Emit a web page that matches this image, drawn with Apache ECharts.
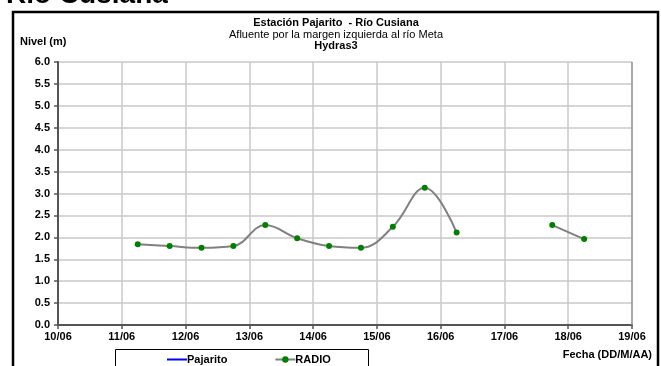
<!DOCTYPE html>
<html>
<head>
<meta charset="UTF-8">
<title>Estación Pajarito - Río Cusiana</title>
<script src="https://cdn.jsdelivr.net/npm/echarts@6/dist/echarts.min.js"></script>
<style>
  body { margin: 0; background: #fff; }
  #main { width: 661px; height: 366px; }
</style>
</head>
<body>
<div id="main"></div>
<script type="text/javascript">
// days of June (fractional), null marks the gap in the record
var dias = [11.25, 11.75, 12.25, 12.75, 13.25, 13.75, 14.25, 14.75, 15.25, 15.75, 16.25, 16.75, 17.25, 17.75, 18.25];
var radio = [1.84, 1.80, 1.76, 1.80, 2.28, 1.98, 1.80, 1.76, 2.24, 3.13, 2.11, null, null, 2.28, 1.96];
var pajarito = [];
var yTicks = [0, 0.5, 1, 1.5, 2, 2.5, 3, 3.5, 4, 4.5, 5, 5.5, 6];

var font = 'Liberation Sans, Arial, sans-serif';
var radioData = dias.map(function (d, i) { return [d, radio[i]]; });

var myChart = echarts.init(document.getElementById('main'));
myChart.setOption({
    animation: false,
    title: [{
        text: 'Estación Pajarito  - Río Cusiana',
        left: 331, top: 12, textAlign: 'center',
        textStyle: { fontFamily: font, fontSize: 11, fontWeight: 'bold', color: '#000' }
    }, {
        text: 'Afluente por la margen izquierda al río Meta',
        left: 331, top: 24, textAlign: 'center',
        textStyle: { fontFamily: font, fontSize: 11, fontWeight: 'normal', color: '#000' }
    }, {
        text: 'Hydras3',
        left: 331, top: 35, textAlign: 'center',
        textStyle: { fontFamily: font, fontSize: 11, fontWeight: 'bold', color: '#000' }
    }],
    graphic: [{
        type: 'text', x: 6, y: 9,
        style: { text: 'Río Cusiana', font: 'bold 28px ' + font, fill: '#000', verticalAlign: 'bottom' }
    }, {
        type: 'rect', shape: { x: 13, y: 12, width: 645, height: 370 },
        style: { fill: 'none', stroke: '#000', lineWidth: 2.5 }
    }, {
        type: 'text', left: 20, top: 36,
        style: { text: 'Nivel (m)', font: 'bold 11px ' + font, fill: '#000' }
    }, {
        type: 'text', right: 9, top: 349,
        style: { text: 'Fecha (DD/M/AA)', font: 'bold 11px ' + font, fill: '#000' }
    }, {
        type: 'rect', shape: { x: 115.5, y: 349.5, width: 253, height: 25 },
        style: { fill: '#fff', stroke: '#000', lineWidth: 1 }
    }],
    legend: {
        left: 161, top: 349, itemGap: 47, itemWidth: 20, itemHeight: 8,
        textStyle: { fontFamily: font, fontSize: 11, fontWeight: 'bold', color: '#000', padding: [0, 0, 0, -5] },
        data: [
            { name: 'Pajarito', itemStyle: { color: 'rgba(0,0,0,0)', borderWidth: 0 } },
            'RADIO'
        ]
    },
    grid: { left: 58, right: 29, top: 62, bottom: 41 },
    xAxis: {
        type: 'value', min: 10, max: 19, interval: 1,
        axisLine: { show: true, onZero: false, lineStyle: { color: '#555', width: 2 } },
        axisTick: { show: true, length: 4, lineStyle: { color: '#555', width: 1.5 } },
        splitLine: { show: true, lineStyle: { color: '#c8c8c8', width: 1.5 } },
        axisLabel: {
            fontFamily: font, fontSize: 11, fontWeight: 'bold', color: '#000', margin: 6,
            formatter: function (v) { return (v < 10 ? '0' : '') + v + '/06'; }
        }
    },
    yAxis: {
        type: 'value', min: yTicks[0], max: yTicks[yTicks.length - 1], interval: 0.5,
        axisLine: { show: true, lineStyle: { color: '#555', width: 2 } },
        axisTick: { show: true, length: 4, lineStyle: { color: '#555', width: 1.5 } },
        splitLine: { show: true, lineStyle: { color: '#c8c8c8', width: 1.5 } },
        axisLabel: {
            fontFamily: font, fontSize: 11, fontWeight: 'bold', color: '#000', margin: 8,
            formatter: function (v) { return v.toFixed(1); }
        }
    },
    series: [{
        name: 'Pajarito', type: 'line', data: pajarito, symbol: 'none',
        lineStyle: { color: '#0000ff', width: 1.5 }, itemStyle: { color: '#0000ff' }
    }, {
        name: 'RADIO', type: 'line', data: radioData, smooth: 0.4, connectNulls: false,
        symbol: 'circle', symbolSize: 6, showSymbol: true,
        lineStyle: { color: '#808080', width: 2 },
        itemStyle: { color: '#008000' }
    }, {
        // right border of the plot area
        type: 'line', silent: true, data: [],
        markLine: {
            silent: true, symbol: 'none', label: { show: false },
            lineStyle: { color: '#999', width: 1.5, type: 'solid' },
            data: [{ xAxis: 19 }]
        }
    }]
});
</script>
</body>
</html>
